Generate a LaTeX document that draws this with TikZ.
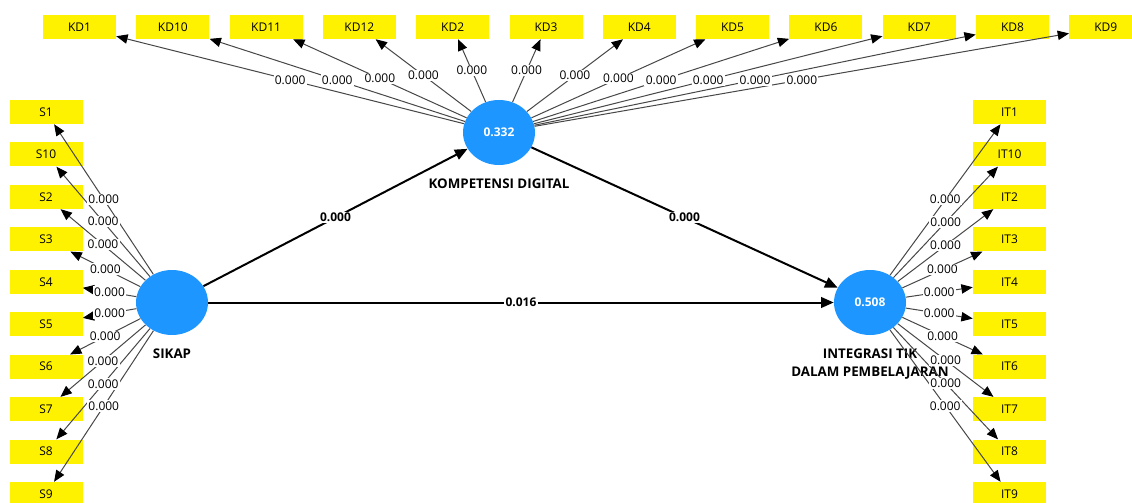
\documentclass[tikz,border=0pt]{standalone}
\usepackage{fontspec}
\setmainfont{Open Sans}
\usetikzlibrary{arrows.meta,positioning,shapes.geometric}
\definecolor{lvblue}{RGB}{30,150,255}
\tikzset{
	indbox/.style={rectangle, fill=yellow, minimum width=54.75pt, minimum height=18pt, inner sep=0pt, font=\fontsize{9}{10}\selectfont},
	latent/.style={ellipse, fill=lvblue, minimum width=54pt, minimum height=48.75pt, inner sep=0pt, text=white, font=\fontsize{9}{10}\selectfont\bfseries},
	lvname/.style={inner sep=0pt, align=center, font=\fontsize{10}{13.5}\selectfont\bfseries},
	loading/.style={draw=black!72, line width=0.75pt, -{Triangle[length=8.5pt,width=7pt,color=black]}},
	structural/.style={draw=black, line width=1.5pt, -{Triangle[length=9.5pt,width=8pt]}},
	coef/.style={fill=white, inner sep=1pt, font=\fontsize{9}{10}\selectfont},
	coefbold/.style={coef, font=\fontsize{9}{10}\selectfont\bfseries}
}

\begin{document}
\begin{tikzpicture}[x=0.75pt, y=-0.75pt]
		%%%%% START %%%%%
		\useasboundingbox[fill=white] (0, 0) rectangle (1132, 503);
		
		% latent variables
		\node[latent] (sik) at (172, 302.5) {};
		\node[latent] (kd) at (499, 132.5) {0.332};
		\node[latent] (itk) at (870, 302.5) {0.508};
		
		\node[lvname, below=10pt of sik] {SIKAP};
		\node[lvname, below=10pt of kd] {KOMPETENSI DIGITAL};
		\node[lvname, below=10pt of itk] {INTEGRASI TIK\\DALAM PEMBELAJARAN};
		
		% indicators
		\foreach \n [count=\i from 0] in {1,10,11,12,2,3,4,5,6,7,8,9}
			\node[indbox] (KD\n) at (79.5+93.3*\i, 27) {KD\n};
		\foreach \n [count=\i from 0] in {1,10,2,3,4,5,6,7,8,9} {
			\node[indbox] (S\n) at (46, 112+42.45*\i) {S\n};
			\node[indbox] (IT\n) at (1009.5, 112+42.45*\i) {IT\n};
		}
		
		% outer loadings
		\foreach \n in {1,...,12}
			\draw[loading] (kd) -- (KD\n);
		\foreach \n in {1,...,10} {
			\draw[loading] (sik) -- (S\n);
			\draw[loading] (itk) -- (IT\n);
		}
		\foreach \n in {1,...,12}
			\path (kd) -- node[coef] {0.000} (KD\n);
		\foreach \n in {1,...,10} {
			\path (sik) -- node[coef] {0.000} (S\n);
			\path (itk) -- node[coef] {0.000} (IT\n);
		}
		
		% inner model
		\draw[structural] (sik) -- node[coefbold] {0.000} (kd);
		\draw[structural] (kd) -- node[coefbold] {0.000} (itk);
		\draw[structural] (sik) -- node[coefbold] {0.016} (itk);
		
		%%%%% END %%%%%
\end{tikzpicture}
\end{document}
